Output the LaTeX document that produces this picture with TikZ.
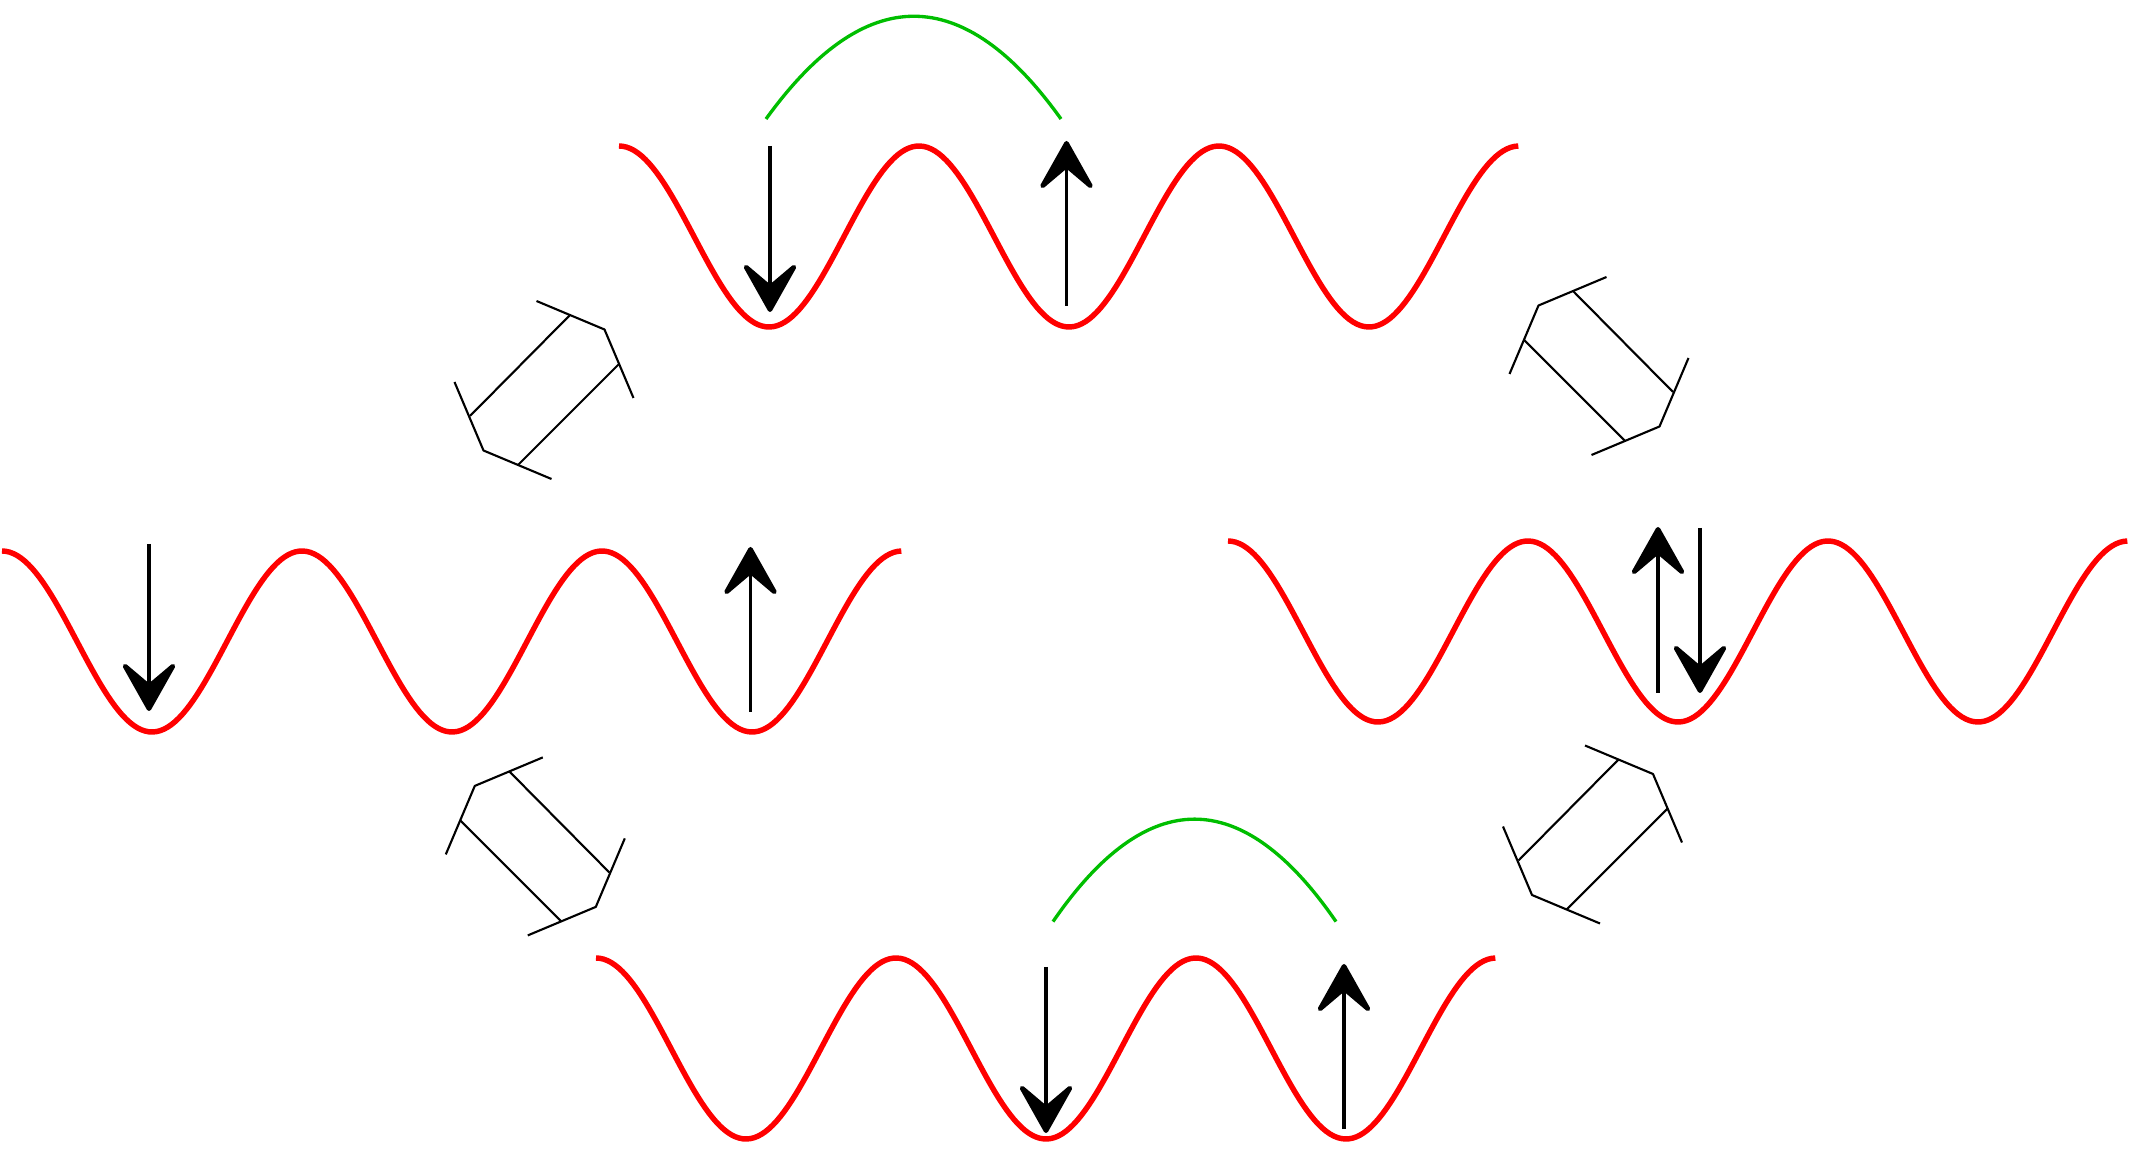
\documentclass[tikz,border=0pt]{standalone}
\usetikzlibrary{arrows.meta}
\definecolor{wavered}{RGB}{255,0,0}
\definecolor{hopgreen}{RGB}{0,190,0}
\tikzset{
  x=0.01cm,y=-0.01cm,
  wave/.style={draw=wavered,line width=1.55pt},
  hop/.style={draw=hopgreen,line width=0.95pt},
  spin/.style={draw=black,line width=1pt,-{Stealth[length=0.57cm,width=0.64cm,inset=0.27cm,round,line width=1.3pt]}},
  link/.style={draw=black,line width=0.6pt,line join=round},
  coupler/.pic={
    \draw[link] (-7.5,-89) -- (60.5,-60.5) -- (89.5,8);
    \draw[link] (7.5,89) -- (-60.5,60.5) -- (-89.5,-8);
    \draw[link] (26,-75) -- (-74,26);
    \draw[link] (-26,75) -- (75,-26);
  },
  lattice/.pic={
    \draw[wave] plot[domain=0:3,samples=240] ({300*\x},{90.5-90.5*cos(360*\x)});
  }
}
\begin{document}
\begin{tikzpicture}
\useasboundingbox (0,0) rectangle (2144,1152);
% lattices
\pic at (619,146) {lattice};
\pic at (2,551) {lattice};
\pic at (1228,541) {lattice};
\pic at (596,958) {lattice};
% couplers
\pic at (544,390) {coupler};
\pic[xscale=-1] at (1599,366) {coupler};
\pic[xscale=-1] at (535.3,846.4) {coupler};
\pic at (1592.5,834.5) {coupler};
% spins
\coordinate (a1) at (770,146); \coordinate (a2) at (770,312);
\coordinate (b1) at (1066.5,306); \coordinate (b2) at (1066.5,141);
\coordinate (c1) at (149,544); \coordinate (c2) at (149,711);
\coordinate (d1) at (750.5,712); \coordinate (d2) at (750.5,547);
\coordinate (e1) at (1658,693); \coordinate (e2) at (1658,527);
\coordinate (f1) at (1700,528); \coordinate (f2) at (1700,693);
\coordinate (g1) at (1046,967); \coordinate (g2) at (1046,1133);
\coordinate (h1) at (1344,1129); \coordinate (h2) at (1344,964);
\foreach \p/\q in {a1/a2,b1/b2,c1/c2,d1/d2,e1/e2,f1/f2,g1/g2,h1/h2}
  \draw[spin] (\p) -- (\q);
% hops
\coordinate (t1) at (766,119); \coordinate (t2) at (1061,119);
\coordinate (u1) at (1053,921.6); \coordinate (u2) at (1336,921.6);
\draw[hop] (t1) .. controls (865,-18) and (963,-18) .. (t2);
\draw[hop] (u1) .. controls (1147,785) and (1242,785) .. (u2);
\end{tikzpicture}
\end{document}
